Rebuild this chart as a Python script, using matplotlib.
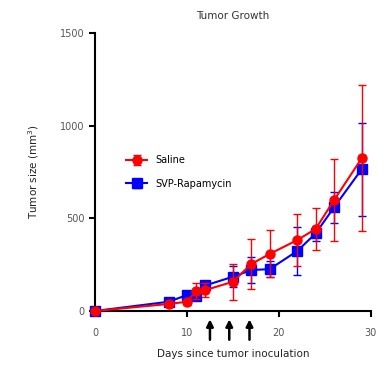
import matplotlib.pyplot as plt

days = [0, 8, 10, 11, 12, 15, 17, 19, 22, 24, 26, 29]

saline = [0, 38, 50, 108, 113, 158, 254, 308, 383, 443, 599, 824]
saline_err = [5, 10, 15, 45, 40, 97, 137, 127, 138, 112, 221, 393]

svp = [0, 50, 86, 82, 138, 185, 221, 226, 324, 419, 560, 765]
svp_err = [5, 10, 12, 15, 20, 57, 69, 42, 130, 40, 83, 250]

arrow_days = [12.5, 14.6, 16.8]

fig = plt.figure(figsize=(3.9, 3.71), dpi=100)
ax = fig.add_axes([0.2436, 0.1617, 0.7074, 0.7493])

ax.errorbar(days, saline, yerr=saline_err, color='#ff0000', marker='o', markersize=6.5,
            linewidth=1.5, capsize=3, elinewidth=1.0, label='Saline', clip_on=False, zorder=3)
ax.errorbar(days, svp, yerr=svp_err, color='#0000ff', marker='s', markersize=6.5,
            linewidth=1.5, capsize=3, elinewidth=1.0, label='SVP-Rapamycin', clip_on=False, zorder=2)

ax.set_xlim(0, 30)
ax.set_ylim(0, 1500)
ax.set_xticks([0, 10, 20, 30])
ax.set_yticks([0, 500, 1000, 1500])

for s in ['top', 'right']:
    ax.spines[s].set_visible(False)
for s in ['left', 'bottom']:
    ax.spines[s].set_linewidth(1.5)
ax.tick_params(width=1.5, length=4, labelsize=7, labelcolor='#555555')
ax.tick_params(axis='x', pad=8)

for d in arrow_days:
    ax.annotate('', xy=(d, -30), xytext=(d, -170), xycoords='data', textcoords='data',
                annotation_clip=False,
                arrowprops=dict(arrowstyle='-|>', color='black', lw=1.8, mutation_scale=10))

ax.set_title('Tumor Growth', fontsize=7.5, color='#333333', pad=10)
ax.set_xlabel('Days since tumor inoculation', fontsize=7.5, color='#222222', labelpad=8)
ax.set_ylabel('Tumor size (mm$^3$)', fontsize=7.5, color='#222222', labelpad=14)

ax.legend(loc='center left', bbox_to_anchor=(0.08, 0.50), frameon=False, fontsize=7,
          handlelength=2.2, labelspacing=1.4)

fig.savefig('out.png', dpi=100)
